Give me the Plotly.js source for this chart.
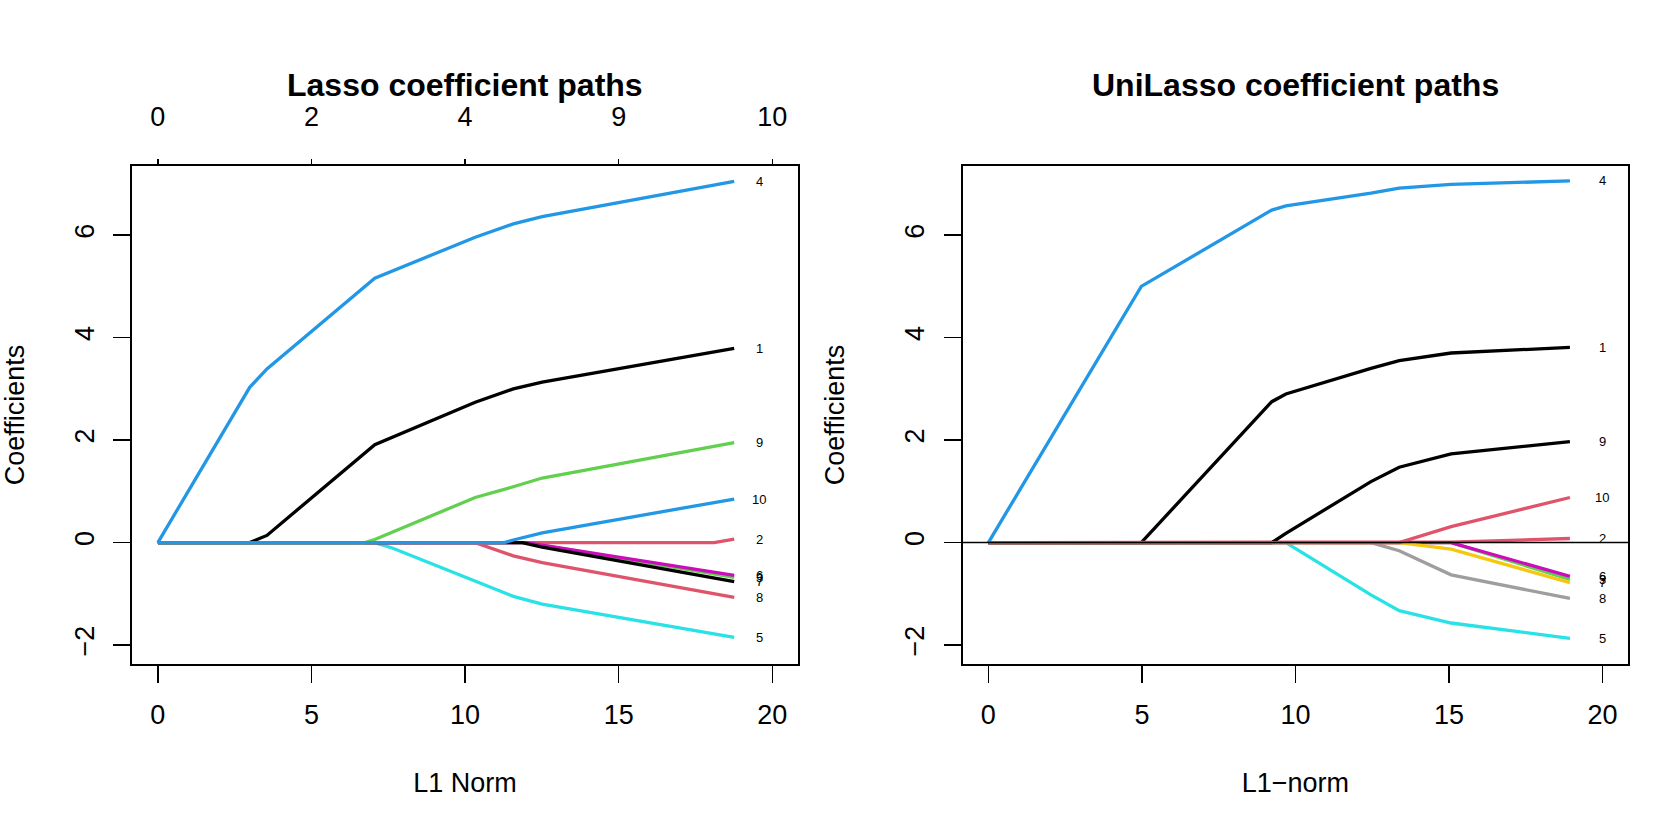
<!DOCTYPE html>
<html>
<head>
<meta charset="utf-8">
<script src="https://cdn.plot.ly/plotly-3.0.1.min.js"></script>
<style>html,body{margin:0;padding:0;background:#fff;}#chart{width:1661px;height:830px;}</style>
</head>
<body>
<div id="chart"></div>
<script>
// ---------- Data ----------
const varNames = ["1","2","3","4","5","6","7","8","9","10"];
const xTickVals = [0, 5, 10, 15, 20];
const dfTickText = ["0", "2", "4", "9", "10"];
const yTickVals = [-2, 0, 2, 4, 6];

// Lasso paths (left panel): L1 norm knots and coefficients per variable
const lassoX1 = [0, 2.99, 3.55, 7.06, 10.33, 11.57, 12.51, 18.76];
const lassoY1 = [0, 0, 0.14, 1.91, 2.74, 3.0, 3.13, 3.79];
const lassoX2 = [0, 18.11, 18.76];
const lassoY2 = [0, 0, 0.065];
const lassoX3 = [0, 12.0, 18.76];
const lassoY3 = [0, 0, -0.68];
const lassoX4 = [0, 2.99, 3.55, 7.06, 10.33, 11.57, 12.51, 18.76];
const lassoY4 = [0, 3.03, 3.39, 5.16, 5.96, 6.22, 6.36, 7.05];
const lassoX5 = [0, 7.06, 7.65, 10.33, 11.57, 12.51, 18.76];
const lassoY5 = [0, 0, -0.11, -0.76, -1.05, -1.2, -1.85];
const lassoX6 = [0, 12.0, 18.76];
const lassoY6 = [0, 0, -0.64];
const lassoX7 = [0, 11.86, 12.51, 18.76];
const lassoY7 = [0, 0, -0.09, -0.76];
const lassoX8 = [0, 10.33, 11.57, 12.51, 18.76];
const lassoY8 = [0, 0, -0.26, -0.39, -1.07];
const lassoX9 = [0, 6.74, 7.06, 10.33, 11.57, 12.51, 18.76];
const lassoY9 = [0, 0, 0.06, 0.88, 1.09, 1.26, 1.95];
const lassoX10 = [0, 11.28, 11.57, 12.51, 18.76];
const lassoY10 = [0, 0, 0.05, 0.19, 0.85];

// UniLasso paths (right panel)
const uniX1 = [0, 4.98, 9.23, 9.69, 12.46, 13.38, 15.07, 18.94];
const uniY1 = [0, 0, 2.75, 2.9, 3.4, 3.55, 3.7, 3.81];
const uniX2 = [0, 13.38, 15.07, 18.94];
const uniY2 = [0, 0, 0.01, 0.08];
const uniX3 = [0, 15.07, 18.94];
const uniY3 = [0, 0, -0.72];
const uniX4 = [0, 4.98, 9.23, 9.69, 12.46, 13.38, 15.07, 18.94];
const uniY4 = [0, 5.0, 6.49, 6.57, 6.82, 6.92, 6.99, 7.06];
const uniX5 = [0, 9.69, 12.46, 13.38, 15.07, 18.94];
const uniY5 = [0, 0, -1.02, -1.33, -1.57, -1.87];
const uniX6 = [0, 15.07, 18.94];
const uniY6 = [0, 0, -0.66];
const uniX7 = [0, 13.38, 15.07, 18.94];
const uniY7 = [0, 0, -0.13, -0.78];
const uniX8 = [0, 12.46, 13.38, 15.07, 18.94];
const uniY8 = [0, 0, -0.16, -0.63, -1.09];
const uniX9 = [0, 9.23, 9.69, 12.46, 13.38, 15.07, 18.94];
const uniY9 = [0, 0, 0.18, 1.19, 1.47, 1.73, 1.97];
const uniX10 = [0, 13.38, 15.07, 18.94];
const uniY10 = [0, 0, 0.31, 0.88];

// ---------- Styling ----------
const lassoColors = ["#000000","#DF536B","#61D04F","#2297E6","#28E2E5","#CD0BBC","#000000","#DF536B","#61D04F","#2297E6"];
const uniColors = ["#000000","#DF536B","#61D04F","#2297E6","#28E2E5","#CD0BBC","#F5C710","#9E9E9E","#000000","#DF536B"];
const FONT = "Liberation Sans, Arial, Helvetica, sans-serif";

const lassoXs = [lassoX1,lassoX2,lassoX3,lassoX4,lassoX5,lassoX6,lassoX7,lassoX8,lassoX9,lassoX10];
const lassoYs = [lassoY1,lassoY2,lassoY3,lassoY4,lassoY5,lassoY6,lassoY7,lassoY8,lassoY9,lassoY10];
const uniXs = [uniX1,uniX2,uniX3,uniX4,uniX5,uniX6,uniX7,uniX8,uniX9,uniX10];
const uniYs = [uniY1,uniY2,uniY3,uniY4,uniY5,uniY6,uniY7,uniY8,uniY9,uniY10];

const traces = [];
const annotations = [];
for (let i = 0; i < 10; i++) {
  traces.push({x: lassoXs[i], y: lassoYs[i], type: "scatter", mode: "lines", xaxis: "x", yaxis: "y",
    line: {color: lassoColors[i], width: 3.3}, hoverinfo: "skip", name: "Lasso " + varNames[i]});
  const ys = lassoYs[i];
  annotations.push({x: 19.57, y: ys[ys.length-1], xref: "x", yref: "y", text: varNames[i], showarrow: false,
    xanchor: "center", yanchor: "middle", font: {family: FONT, size: 13, color: "#000"}});
}
for (let i = 0; i < 10; i++) {
  traces.push({x: uniXs[i], y: uniYs[i], type: "scatter", mode: "lines", xaxis: "x2", yaxis: "y2",
    line: {color: uniColors[i], width: 3.3}, hoverinfo: "skip", name: "UniLasso " + varNames[i]});
  const ys = uniYs[i];
  annotations.push({x: 20.0, y: ys[ys.length-1], xref: "x2", yref: "y2", text: varNames[i], showarrow: false,
    xanchor: "center", yanchor: "middle", font: {family: FONT, size: 13, color: "#000"}});
}
// invisible trace to carry the top (degrees of freedom) axis
traces.push({x: [0], y: [0], xaxis: "x3", yaxis: "y", type: "scatter", mode: "markers",
  marker: {opacity: 0}, hoverinfo: "skip", showlegend: false});

annotations.push({x: 0.28, y: 0.8976, xref: "paper", yref: "paper", text: "<b>Lasso coefficient paths</b>",
  showarrow: false, xanchor: "center", yanchor: "middle", font: {family: FONT, size: 32, color: "#000"}});
annotations.push({x: 0.7799, y: 0.8976, xref: "paper", yref: "paper", text: "<b>UniLasso coefficient paths</b>",
  showarrow: false, xanchor: "center", yanchor: "middle", font: {family: FONT, size: 32, color: "#000"}});

const XR = [-0.83, 20.83];
const YR = [-2.37, 7.35];
function xAxis(domain, anchor, title) {
  return {domain: domain, anchor: anchor, range: XR, tickvals: xTickVals, ticktext: xTickVals.map(String),
    ticks: "outside", ticklen: 17, tickwidth: 1.5, tickcolor: "#000",
    showline: true, linecolor: "#000", linewidth: 2, mirror: true,
    showgrid: false, zeroline: false, fixedrange: true,
    tickfont: {family: FONT, size: 27, color: "#000"}, ticklabelstandoff: 9,
    title: {text: title, font: {family: FONT, size: 27, color: "#000"}, standoff: 44}};
}
function yAxis(domain, anchor) {
  return {domain: domain, anchor: anchor, range: YR, tickvals: yTickVals, ticktext: yTickVals.map(v => v < 0 ? "\u2212" + Math.abs(v) : String(v)),
    tickangle: -90, ticks: "outside", ticklen: 17, tickwidth: 1.5, tickcolor: "#000",
    showline: true, linecolor: "#000", linewidth: 2, mirror: true,
    showgrid: false, zeroline: false, fixedrange: true,
    tickfont: {family: FONT, size: 27, color: "#000"}, ticklabelstandoff: 9,
    title: {text: "Coefficients", font: {family: FONT, size: 27, color: "#000"}, standoff: 48}};
}

const layout = {
  width: 1661, height: 830,
  margin: {l: 0, r: 0, t: 0, b: 0},
  paper_bgcolor: "#fff", plot_bgcolor: "#fff",
  showlegend: false,
  xaxis: xAxis([0.0797, 0.4803], "y", "L1 Norm"),
  yaxis: yAxis([0.2, 0.8], "x"),
  xaxis2: xAxis([0.5797, 0.9801], "y2", "L1\u2212norm"),
  yaxis2: yAxis([0.2, 0.8], "x2"),
  xaxis3: {overlaying: "x", side: "top", anchor: "y", range: XR, tickvals: xTickVals, ticktext: dfTickText,
    ticks: "outside", ticklen: 6, tickwidth: 1.5, tickcolor: "#000", showline: false,
    showgrid: false, zeroline: false, fixedrange: true,
    tickfont: {family: FONT, size: 27, color: "#000"}, ticklabelstandoff: 22},
  shapes: [{type: "line", xref: "x2 domain", yref: "y2", x0: 0, x1: 1, y0: 0, y1: 0,
    line: {color: "#000", width: 1.5}, layer: "above"}],
  annotations: annotations
};

Plotly.newPlot("chart", traces, layout, {staticPlot: true, displayModeBar: false});
</script>
</body>
</html>
